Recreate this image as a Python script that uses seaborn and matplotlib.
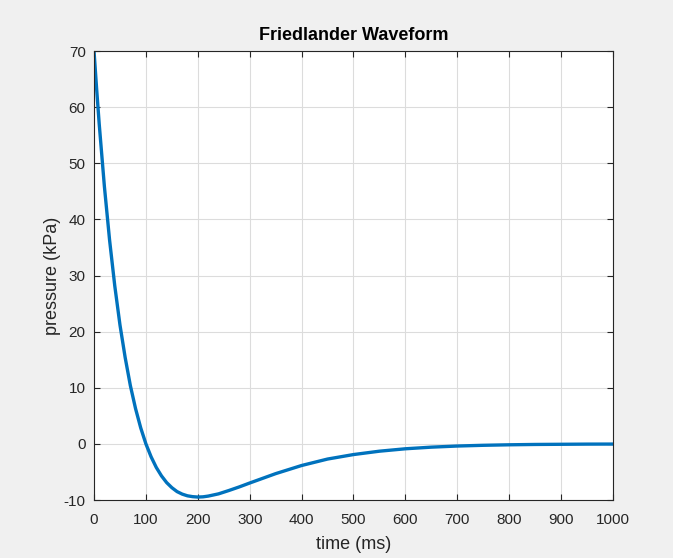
import numpy as np
import pandas as pd
import matplotlib
matplotlib.use("Agg")
import matplotlib.pyplot as plt
import seaborn as sns

# values
time_ms = [0, 5, 10, 20, 30, 40, 50, 60, 70, 80, 90, 100, 110, 120, 130, 140,
           150, 160, 170, 180, 190, 200, 210, 220, 240, 260, 280, 300, 350,
           400, 450, 500, 550, 600, 650, 700, 750, 800, 850, 900, 950, 1000]
pressure_kpa = [70.0, 63.3, 57.0, 45.85, 36.3, 28.15, 21.2, 15.4, 10.4, 6.3,
                2.85, 0.0, -2.3, -4.2, -5.7, -6.9, -7.8, -8.5, -8.95, -9.25,
                -9.4, -9.47, -9.43, -9.3, -8.9, -8.3, -7.66, -6.97, -5.3,
                -3.85, -2.7, -1.9, -1.3, -0.87, -0.58, -0.38, -0.25, -0.16,
                -0.1, -0.07, -0.04, -0.03]
x_ticks = [0, 100, 200, 300, 400, 500, 600, 700, 800, 900, 1000]
y_ticks = [-10, 0, 10, 20, 30, 40, 50, 60, 70]

df = pd.DataFrame({"time": time_ms, "pressure": pressure_kpa})

sns.set_style("whitegrid")
plt.rcParams['font.family'] = ['Liberation Sans', 'DejaVu Sans']
plt.rcParams['axes.unicode_minus'] = False

fig = plt.figure(figsize=(6.73, 5.58), dpi=100, facecolor="#f0f0f0")
ax = fig.add_axes([0.1397, 0.1039, 0.7711, 0.8047])
ax.set_facecolor("white")

sns.lineplot(data=df, x="time", y="pressure", ax=ax, color="#0072BD",
             linewidth=2.4)

ax.set_xlim(0, 1000)
ax.set_ylim(-10, 70)
ax.set_xticks(x_ticks)
ax.set_yticks(y_ticks)
ax.grid(True, color="#dcdcdc", linewidth=0.8)

for s in ax.spines.values():
    s.set_visible(True)
    s.set_color("#262626")
    s.set_linewidth(0.8)

ax.tick_params(direction="in", length=4, width=0.8, color="#262626",
               labelsize=11, labelcolor="#262626", top=True, right=True,
               bottom=True, left=True)
ax.tick_params(axis="x", pad=9)
ax.tick_params(axis="y", pad=6)

ax.set_xlabel("time (ms)", fontsize=13, color="#262626", labelpad=7)
ax.set_ylabel("pressure (kPa)", fontsize=13, color="#262626", labelpad=2)
ax.set_title("Friedlander Waveform", fontsize=13, fontweight="bold",
             color="#000000", pad=8)

fig.savefig("out.png", dpi=100, facecolor=fig.get_facecolor())
